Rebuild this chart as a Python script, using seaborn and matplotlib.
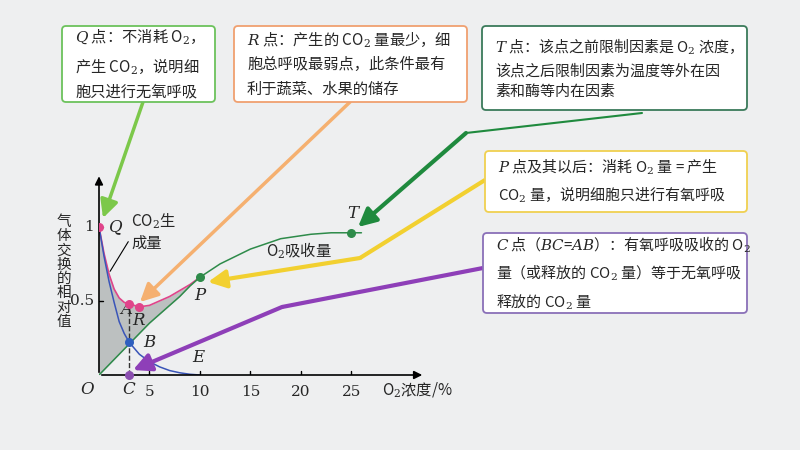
import matplotlib
matplotlib.use("Agg")
import matplotlib.pyplot as plt
import seaborn as sns
import numpy as np
import pandas as pd

sns.set_theme(style="white")
plt.rcParams['font.family'] = ['Noto Sans CJK SC', 'DejaVu Sans']
plt.rcParams['mathtext.fontset'] = 'dejavuserif'

# data
x_low = [0, 0.5, 1, 1.5, 2, 2.5, 3, 4, 5, 6, 7, 8, 9, 10]
co2_total = [1.0, 0.82, 0.68, 0.58, 0.52, 0.49, 0.48, 0.46, 0.47, 0.50, 0.53, 0.57, 0.61, 0.66]
co2_anaer = [1.0, 0.80, 0.63, 0.49, 0.36, 0.28, 0.22, 0.14, 0.09, 0.055, 0.03, 0.015, 0.005, 0.0]
x_o2 = [0, 1, 2, 3, 4, 5, 6, 7, 8, 9, 10, 12, 15, 18, 21, 23, 25, 26]
o2_uptake = [0, 0.07, 0.14, 0.21, 0.28, 0.35, 0.41, 0.47, 0.53, 0.60, 0.66, 0.75, 0.85, 0.92, 0.95, 0.96, 0.96, 0.96]
xticks = [5, 10, 15, 20, 25]

BG = '#eeeff0'
fig = plt.figure(figsize=(8, 4.5), dpi=100, facecolor=BG)
ax = fig.add_axes([99/800, 75/450, 323/800, 200/450])
ax.set_facecolor('none')
ax.set_xlim(0, 32); ax.set_ylim(0, 1.35)
for s in ax.spines.values(): s.set_visible(False)
ax.set_xticks([]); ax.set_yticks([])

green_o2 = np.interp(x_low, x_o2, o2_uptake)
ax.fill_between(x_low, green_o2, co2_total, color='#bcc0c0', lw=0)
sns.lineplot(x=x_low, y=co2_total, ax=ax, color='#e0448a', lw=1.2)
sns.lineplot(x=x_low, y=co2_anaer, ax=ax, color='#3a55b8', lw=1.1)
sns.lineplot(x=x_o2, y=o2_uptake, ax=ax, color='#2e8b4a', lw=1.1)
ax.plot([3, 3], [0, 0.48], ls='--', color='#333333', lw=1)

# axes arrows
ax.annotate('', xy=(0, 1.36), xytext=(0, 0), xycoords='data',
            arrowprops=dict(arrowstyle='-|>', color='black', lw=1.2), annotation_clip=False)
ax.annotate('', xy=(32.3, 0), xytext=(0, 0),
            arrowprops=dict(arrowstyle='-|>', color='black', lw=1.2), annotation_clip=False)
for t in xticks:
    ax.plot([t, t], [0, 0.025], color='black', lw=1)
    ax.text(t, -0.07, str(t), ha='center', va='top', fontsize=11, family='DejaVu Serif')
for v, lab in [(1, '1'), (0.5, '0.5')]:
    ax.plot([0, 0.4], [v, v], color='black', lw=1)
    ax.text(-0.5, v, lab, ha='right', va='center', fontsize=11, family='DejaVu Serif')

# points
ax.scatter([0, 3, 4], [1.0, 0.48, 0.46], color='#e0448a', s=30, zorder=5)
ax.scatter([10, 25], [0.66, 0.96], color='#2e8b4a', s=30, zorder=5)
ax.scatter([3], [0.22], color='#2f5fbf', s=30, zorder=5)
ax.scatter([3], [0], color='#8b4fb0', s=30, zorder=5, clip_on=False)

it = dict(fontsize=12, style='italic', family='DejaVu Serif')
ax.text(1.0, 1.0, 'Q', va='center', **it)
ax.text(2.1, 0.44, 'A', va='center', **it)
ax.text(3.3, 0.37, 'R', va='center', **it)
ax.text(4.4, 0.22, 'B', va='center', **it)
ax.text(9.2, 0.12, 'E', va='center', **it)
ax.text(9.4, 0.54, 'P', va='center', **it)
ax.text(24.6, 1.09, 'T', va='center', **it)
ax.text(-1.2, -0.1, 'O', va='center', ha='center', **it)
ax.text(2.9, -0.1, 'C', va='center', ha='center', **it)
ax.text(3.2, 0.97, 'CO$_2$生\n成量', fontsize=11, va='center', linespacing=1.3)
ax.text(16.5, 0.84, 'O$_2$吸收量', fontsize=11, va='center')
ax.text(28, -0.1, 'O$_2$浓度/%', fontsize=11, va='center')
ax.plot([2.9, 1.1], [0.9, 0.7], color='black', lw=0.8)
fig.text(64/800, 1 - 272/450, '气\n体\n交\n换\n的\n相\n对\n值', fontsize=10.5, ha='center', va='center', linespacing=1.02)

# overlay for boxes and arrows (figure pixels, y from top)
ov = fig.add_axes([0, 0, 1, 1]); ov.set_xlim(0, 800); ov.set_ylim(450, 0); ov.axis('off'); ov.patch.set_alpha(0)

def box(x0, y0, x1, y1, col, text, fs=11):
    ov.add_patch(matplotlib.patches.FancyBboxPatch((x0, y0), x1 - x0, y1 - y0,
                 boxstyle='round,pad=0,rounding_size=4', fc='white', ec=col, lw=1.3, zorder=3))
    ov.text(x0 + 13, (y0 + y1) / 2, text, fontsize=fs, va='center', ha='left', linespacing=1.6, zorder=4)

box(62, 26, 215, 102, '#6cc25c', '$Q$ 点：不消耗 O$_2$，\n产生 CO$_2$，说明细\n胞只进行无氧呼吸')
box(234, 26, 467, 102, '#f0a070', '$R$ 点：产生的 CO$_2$ 量最少，细\n胞总呼吸最弱点，此条件最有\n利于蔬菜、水果的储存')
box(482, 26, 747, 110, '#3a7a5a', '$T$ 点：该点之前限制因素是 O$_2$ 浓度，\n该点之后限制因素为温度等外在因\n素和酶等内在因素', 10.8)
box(485, 151, 747, 212, '#f0d050', '$P$ 点及其以后：消耗 O$_2$ 量 = 产生\nCO$_2$ 量，说明细胞只进行有氧呼吸', 10.8)
box(483, 233, 747, 313, '#8a70b8', '$C$ 点（$BC$=$AB$）：有氧呼吸吸收的 O$_2$\n量（或释放的 CO$_2$ 量）等于无氧呼吸\n释放的 CO$_2$ 量', 10.8)

def arrow(pts, col, lw=3):
    xs, ys = zip(*pts)
    ov.plot(xs[:-1], ys[:-1], color=col, lw=lw, solid_capstyle='butt', zorder=2)
    ov.annotate('', xy=pts[-1], xytext=pts[-2],
                arrowprops=dict(arrowstyle='-|>,head_length=0.9,head_width=0.45', color=col, lw=lw,
                                shrinkA=0, shrinkB=0), zorder=2)

arrow([(143, 102), (103, 218)], '#7cc84a', 2.5)
arrow([(350, 102), (140, 302)], '#f5b070', 2.5)
ov.plot([642, 466], [113, 133], color='#1f8a3e', lw=1.5)
arrow([(466, 133), (358, 227)], '#1f8a3e', 3)
arrow([(485, 180), (360, 258), (208, 282)], '#f2d030', 3)
arrow([(483, 268), (282, 307), (133, 370)], '#8e3fb8', 3)

fig.savefig('out.png', dpi=100, facecolor=BG)
